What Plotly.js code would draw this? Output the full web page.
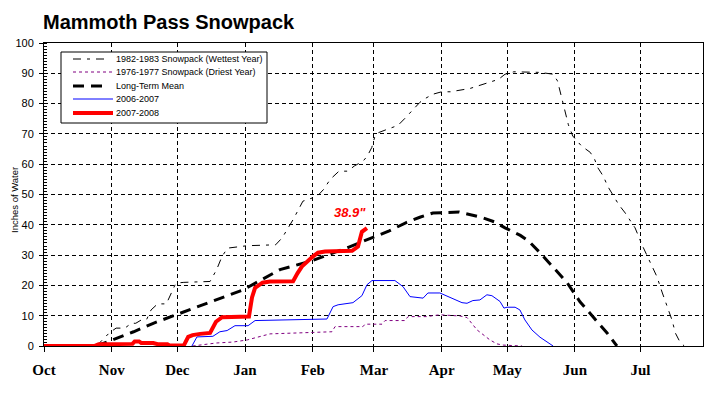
<!DOCTYPE html>
<html>
<head>
<meta charset="utf-8">
<script src="https://cdn.plot.ly/plotly-3.0.1.min.js"></script>
<style>
html,body{margin:0;padding:0;background:#fff;}
#chart{width:726px;height:399px;}
</style>
</head>
<body>
<div id="chart"></div>
<script>
// x values are days since October 1 (water year day)
const monthStarts = [0, 31, 61, 92, 123, 151, 182, 212, 243, 273];
const monthLabels = ['Oct', 'Nov', 'Dec', 'Jan', 'Feb', 'Mar', 'Apr', 'May', 'Jun', 'Jul'];

// 1982-1983 Snowpack (Wettest Year)
const wetDay = [24, 26, 30, 33, 37, 40, 42, 45, 47, 49, 52, 56, 59, 60, 61, 64, 76, 79, 81.5, 84, 93, 106, 109, 114, 118.5, 123, 125, 128, 131, 135, 139, 142, 146, 148, 150, 151.5, 153, 157, 162, 165, 168, 172, 174, 178, 182, 186, 195, 201, 208, 211, 215, 227, 233, 235, 237, 238.5, 240, 242, 246, 250, 252, 253.5, 256, 258, 263, 266, 270.5, 274, 277, 280.5, 283, 285.6, 287.4, 289, 291, 293];
const wetVal = [0, 1.4, 4.4, 5.9, 5.9, 7.5, 7.5, 8.8, 8.8, 11.9, 13.9, 13.9, 18.5, 20.2, 20.8, 21, 21.3, 25.2, 29.6, 32.3, 33.1, 33.4, 35.7, 41.7, 47.8, 49, 49.4, 51.7, 55, 57.7, 57.7, 59.4, 61, 62.7, 65.5, 69.3, 70.4, 71.5, 72.8, 75, 77.3, 80.4, 81.5, 83.1, 83.9, 83.9, 85, 86.4, 88, 89.7, 90.5, 90.3, 89.7, 87.5, 81.5, 77, 73, 69.3, 66, 63.9, 61.6, 58.8, 56, 52.7, 46.7, 43.9, 39, 32.9, 28.5, 22.9, 17.5, 11.9, 8.6, 4.2, 1.4, 0];

// 1976-1977 Snowpack (Driest Year)
const dryDay = [68, 79, 86.5, 93, 103.4, 120.4, 122.7, 125.4, 131.8, 133.2, 146, 146.9, 154.7, 156.1, 165.2, 166.6, 175.3, 178, 181.2, 190.4, 193.6, 198.2, 204.1, 207.3, 210.1, 218.8];
const dryVal = [0, 1, 1.3, 2, 4, 4.5, 4.4, 4.7, 4.7, 6.4, 6.4, 7.2, 7.2, 8.4, 8.4, 9.7, 9.7, 10, 10.3, 9.9, 9.4, 5.3, 2, 0.7, 0.3, 0];

// Long-Term Mean
const meanDay = [24, 28, 33, 41, 50, 59, 68, 91, 108, 122, 139, 148, 158, 166, 172, 178, 185, 190, 193, 200, 206, 211, 218, 222, 227, 233, 239.4, 245.3, 251.3, 257.7, 262.2];
const meanVal = [0, 1.1, 2.5, 4.7, 7.5, 9.9, 12.5, 18.5, 25.2, 28, 32.5, 35, 38, 40.8, 42.5, 43.9, 44.2, 44.2, 43.7, 42.5, 41, 39, 36.5, 34.5, 30.8, 26, 20.9, 14.6, 9.6, 4.3, 0];

// 2006-2007
const y0607Day = [67.7, 70, 77.3, 80.5, 83.8, 87.4, 93.4, 96.6, 129.5, 132.3, 134.6, 141.4, 145.5, 147.8, 150.1, 160.6, 164.3, 167.5, 173.5, 175.7, 181.2, 188.1, 191.3, 193.6, 196.3, 199.5, 202.7, 205, 208.7, 210.5, 211.9, 215.6, 217.8, 220.1, 223.3, 227, 230.2, 233];
const y0607Val = [0, 3, 3.2, 4.7, 5.1, 6.7, 6.7, 8.4, 8.9, 13, 13.6, 14.3, 16.6, 20.2, 21.6, 21.6, 19.6, 16.3, 15.8, 17.5, 17.5, 15.2, 14.3, 14.1, 15, 15.2, 16.9, 16.6, 14.7, 12.5, 12.8, 12.8, 11.9, 8.6, 5.3, 2.9, 1.4, 0];

// 2007-2008
const y0708Day = [0, 23, 25, 40.5, 41.5, 43.5, 44.5, 50, 52, 56.5, 57.5, 64, 66, 68, 71.5, 76, 78.7, 81.5, 93.8, 95.2, 96.6, 100, 103.4, 114, 116, 118, 123, 125.4, 128.6, 141, 143.7, 145.5, 147.8];
const y0708Val = [0, 0, 0.6, 0.7, 1.5, 1.5, 1.0, 1.0, 0.6, 0.6, 0.2, 0.2, 3, 3.6, 4.0, 4.3, 8, 9.5, 9.7, 16, 19.2, 20.9, 21.3, 21.4, 24, 26.2, 29.5, 30.8, 31.2, 31.4, 32.8, 37.7, 38.9];

const latestLabel = '38.9"';

const series = [
  {name: '1982-1983 Snowpack (Wettest Year)', x: wetDay, y: wetVal, color: '#000000', width: 1, dash: '8px,6px,3px,6px', sampleEnd: 108},
  {name: '1976-1977 Snowpack (Driest Year)', x: dryDay, y: dryVal, color: '#800080', width: 1, dash: '3px,3px', sampleEnd: 113},
  {name: 'Long-Term Mean', x: meanDay, y: meanVal, color: '#000000', width: 3, dash: '11px,7px', sampleEnd: 108},
  {name: '2006-2007', x: y0607Day, y: y0607Val, color: '#0000FF', width: 1, dash: 'solid', sampleEnd: 113},
  {name: '2007-2008', x: y0708Day, y: y0708Val, color: '#FF0000', width: 4, dash: 'solid', sampleEnd: 113}
];

const W = 726, H = 399;
const M = {l: 44, r: 23, t: 43, b: 53};
const pw = W - M.l - M.r, ph = H - M.t - M.b;
const px = v => (v - M.l) / pw;
const py = v => (H - M.b - v) / ph;

const traces = series.map(s => ({
  type: 'scatter', mode: 'lines', name: s.name, x: s.x, y: s.y,
  line: {color: s.color, width: s.width, dash: s.dash, shape: 'linear'},
  hoverinfo: 'skip', showlegend: false
}));

// hand-built legend (box + samples + labels)
const legendFont = {family: 'Liberation Sans, Arial, sans-serif', size: 9, color: '#000'};
const rowY = [59, 72, 86, 99, 113];
const shapes = [{
  type: 'rect', xref: 'paper', yref: 'paper', layer: 'above',
  x0: px(61), x1: px(267), y0: py(123), y1: py(52),
  fillcolor: '#ffffff', line: {color: '#000', width: 1}
}];
const annotations = [];
series.forEach((s, i) => {
  shapes.push({
    type: 'line', xref: 'paper', yref: 'paper', layer: 'above',
    x0: px(73), x1: px(s.sampleEnd), y0: py(rowY[i]), y1: py(rowY[i]),
    line: {color: s.color, width: s.width, dash: s.dash}
  });
  annotations.push({
    xref: 'paper', yref: 'paper', x: px(114), y: py(rowY[i]),
    xanchor: 'left', yanchor: 'middle', showarrow: false,
    text: s.name, font: legendFont
  });
});
annotations.push({
  xref: 'x', yref: 'y', x: 140, y: 44, showarrow: false,
  text: latestLabel,
  font: {family: 'Liberation Sans, Arial, sans-serif', size: 13, color: '#FF0000', weight: 'bold', style: 'italic'}
});
// y-axis title
annotations.push({
  xref: 'paper', yref: 'paper', x: px(15), y: py(200), xanchor: 'center', yanchor: 'middle',
  textangle: -90, showarrow: false, text: 'Inches of Water',
  font: {family: 'Liberation Sans, Arial, sans-serif', size: 9.5, color: '#000'}
});

const layout = {
  width: W, height: H,
  margin: M,
  paper_bgcolor: '#ffffff', plot_bgcolor: '#ffffff',
  showlegend: false,
  title: {
    text: 'Mammoth Pass Snowpack',
    xref: 'container', yref: 'container', x: 43 / W, xanchor: 'left', y: 1 - 22 / H, yanchor: 'middle',
    font: {family: 'Liberation Sans, Arial, sans-serif', size: 20, color: '#000', weight: 'bold'}
  },
  xaxis: {
    range: [0, 301.6], tickmode: 'array', tickvals: monthStarts, ticktext: monthLabels,
    showline: true, mirror: true, linecolor: '#000', linewidth: 1,
    ticks: 'outside', ticklen: 5, tickcolor: '#000', tickwidth: 1,
    ticklabelstandoff: 5,
    showgrid: true, gridcolor: '#000', gridwidth: 1, griddash: '4px,3px',
    zeroline: false, fixedrange: true,
    tickfont: {family: 'Liberation Serif, Times New Roman, serif', size: 15, color: '#000', weight: 'bold'}
  },
  yaxis: {
    range: [0, 100], dtick: 10, tick0: 0,
    showline: true, mirror: true, linecolor: '#000', linewidth: 1,
    ticks: 'outside', ticklen: 4, tickcolor: '#000', tickwidth: 1,
    ticklabelstandoff: 3,
    minor: {ticks: 'inside', dtick: 1, ticklen: 3, tickcolor: '#000', showgrid: false},
    showgrid: true, gridcolor: '#000', gridwidth: 1, griddash: '4px,3px',
    zeroline: false, fixedrange: true,
    tickfont: {family: 'Liberation Sans, Arial, sans-serif', size: 11, color: '#000'}
  },
  shapes: shapes,
  annotations: annotations
};

Plotly.newPlot('chart', traces, layout, {staticPlot: true, displayModeBar: false});
</script>
</body>
</html>
